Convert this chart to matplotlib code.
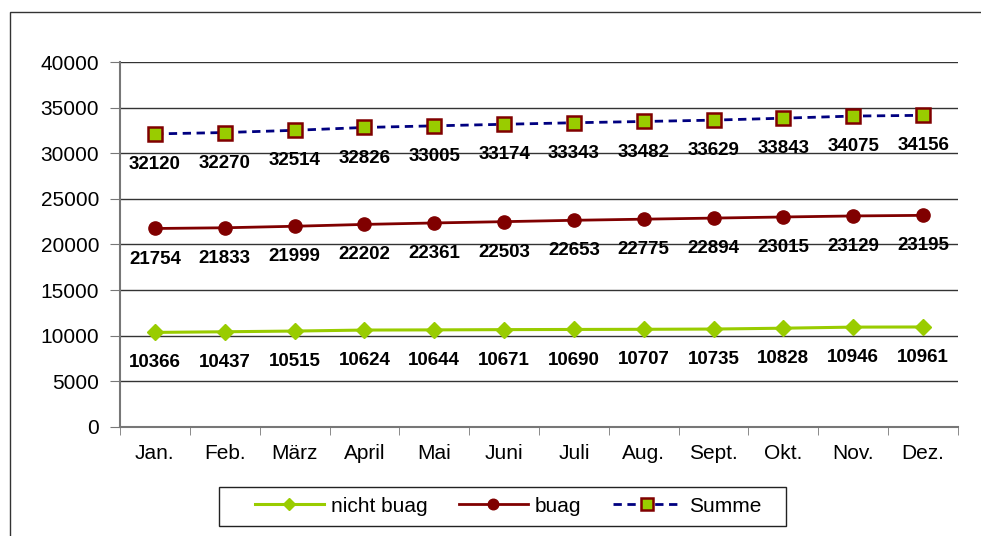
import matplotlib.pyplot as plt
from matplotlib.patches import Rectangle

plt.rcParams['font.family'] = ['Liberation Sans', 'DejaVu Sans']

months = ["Jan.", "Feb.", "März", "April", "Mai", "Juni", "Juli", "Aug.", "Sept.", "Okt.", "Nov.", "Dez."]
nicht_buag = [10366, 10437, 10515, 10624, 10644, 10671, 10690, 10707, 10735, 10828, 10946, 10961]
buag = [21754, 21833, 21999, 22202, 22361, 22503, 22653, 22775, 22894, 23015, 23129, 23195]
summe = [32120, 32270, 32514, 32826, 33005, 33174, 33343, 33482, 33629, 33843, 34075, 34156]
yticks = [0, 5000, 10000, 15000, 20000, 25000, 30000, 35000, 40000]

W, H = 981, 536
fig = plt.figure(figsize=(W / 100, H / 100), dpi=100)
ax = fig.add_axes([120 / W, 1 - 427 / H, (958 - 120) / W, (427 - 62) / H])

# outer chart frame (cut off at right and bottom like the original)
fig.add_artist(Rectangle((10 / W, -0.05), 1.2, 1 - 12 / H + 0.05, transform=fig.transFigure,
                         fill=False, edgecolor="#333333", lw=1))

x = list(range(len(months)))
for yv in yticks[1:]:
    ax.axhline(yv, color="#333333", lw=1, zorder=1)

ax.plot(x, nicht_buag, "-", color="#99CC00", lw=2.2, marker="D", ms=8,
        mfc="#99CC00", mec="#99CC00", label="nicht buag", zorder=3)
ax.plot(x, buag, "-", color="#800000", lw=2, marker="o", ms=9.5,
        mfc="#800000", mec="#800000", label="buag", zorder=3)
ax.plot(x, summe, "--", color="#000080", lw=2, marker="s", ms=10.5,
        mfc="#99CC00", mec="#800000", mew=1.8, label="Summe", zorder=3, dashes=(3, 2))

for series in (nicht_buag, buag, summe):
    for xi, v in zip(x, series):
        ax.annotate(str(v), (xi, v), xytext=(0, -22), textcoords="offset points",
                    ha="center", va="center", fontsize=13.5, fontweight="bold", zorder=4)

ax.set_xlim(-0.5, len(months) - 0.5)
ax.set_ylim(0, 40000)
ax.set_yticks(yticks)
ax.set_yticklabels([str(v) for v in yticks])
ax.set_xticks(x)
ax.set_xticklabels(months)
ax.set_xticks([i - 0.5 for i in range(len(months) + 1)], minor=True)
ax.tick_params(axis="x", which="major", length=0, pad=12, labelsize=15)
ax.tick_params(axis="x", which="minor", length=6, color="#777777")
ax.tick_params(axis="y", length=7, color="#777777", labelsize=15, pad=8)
for side in ("top", "right"):
    ax.spines[side].set_visible(False)
for side in ("left", "bottom"):
    ax.spines[side].set_color("#777777")
    ax.spines[side].set_linewidth(1.5)

# legend without its own frame, box drawn separately to match the wide padding
fig.legend(loc="center", bbox_to_anchor=(508 / W, 1 - 506 / H), ncol=3, frameon=False,
           fontsize=15, handlelength=3.3, handletextpad=0.35, columnspacing=1.5,
           markerscale=0.8)
fig.add_artist(Rectangle((219 / W, 1 - 526 / H), (786 - 219) / W, (526 - 487) / H,
                         transform=fig.transFigure, fill=False, edgecolor="#222222", lw=1))

fig.savefig("out.png", dpi=100)
